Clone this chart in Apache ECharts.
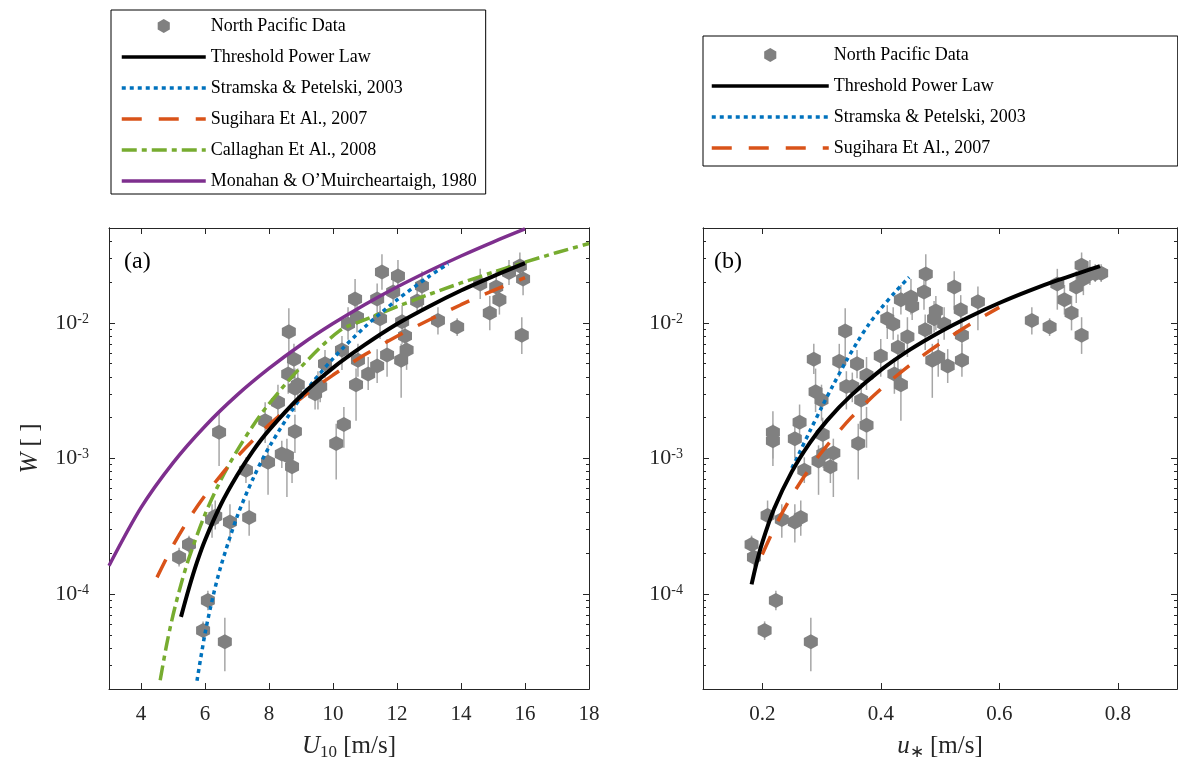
<!DOCTYPE html>
<html><head><meta charset="utf-8">
<script src="https://cdn.jsdelivr.net/npm/echarts@6/dist/echarts.min.js"></script>
<style>html,body{margin:0;padding:0;background:#fff}#c{width:1178px;height:769px}</style>
</head><body><div id="c"></div>
<script>
// ---------------- data ----------------
// Panel (a): wind speed U10 [m/s] vs whitecap coverage W
const ptsA_U = [5.19,5.5,6.22,6.32,6.78,7.38,6.09,5.94,6.62,7.28,7.97,8.4,8.56,8.72,8.62,6.44,8.78,8.6,8.81,8.28,9.53,8.81,7.88,10.34,10.1,10.47,10.28,10.69,10.75,11.53,12.03,11.38,11.47,11.88,12.16,12.25,12.3,11.69,12.13,11.38,11.1,10.72,12.78,12.63,15.84,15.94,15.1,14.6,15.2,14.9,13.28,13.88,15.9,10.78,9.75,9.44,15.5,9.6,8.9];
const ptsA_W = [1.87e-4,2.32e-4,3.55e-4,3.75e-4,3.4e-4,3.67e-4,9.0e-5,5.4e-5,4.46e-5,8.2e-4,9.4e-4,1.08e-3,1.05e-3,8.7e-4,8.6e-3,1.56e-3,5.4e-3,4.2e-3,3.3e-3,2.6e-3,3.4e-3,1.58e-3,1.9e-3,1.78e-3,1.29e-3,9.8e-3,6.3e-3,0.015,0.011,0.0237,0.0221,0.015,0.0107,0.0169,0.0102,8.0e-3,6.3e-3,5.8e-3,5.3e-3,4.8e-3,4.2e-3,3.5e-3,0.0187,0.0145,0.0262,0.021,0.0184,0.0193,0.0148,0.0118,0.0104,9.3e-3,8.1e-3,5.3e-3,5.0e-3,3.0e-3,0.0235,3.4e-3,3.5e-3];
const ptsA_lo = [1.6e-4,2.0e-4,2.6e-4,3.0e-4,2.4e-4,2.7e-4,7.6e-5,4.6e-5,2.7e-5,6.6e-4,5.4e-4,8.5e-4,5.2e-4,6.6e-4,5.2e-3,8.8e-4,4.2e-3,3.0e-3,2.2e-3,1.9e-3,2.3e-3,1.1e-3,1.3e-3,1.2e-3,7.0e-4,7.5e-3,4.5e-3,0.0115,8.5e-3,0.0175,0.0165,0.0115,7.6e-3,0.0125,7.0e-3,5.6e-3,4.5e-3,4.0e-3,2.8e-3,3.6e-3,3.2e-3,1.9e-3,0.0125,0.0115,0.021,0.016,0.014,0.015,0.0115,8.8e-3,8.2e-3,8.0e-3,5.9e-3,4.0e-3,3.9e-3,2.3e-3,0.019,2.6e-3,2.6e-3];
const ptsA_hi = [2.2e-4,2.7e-4,4.6e-4,4.9e-4,4.6e-4,4.9e-4,1.06e-4,6.3e-5,6.7e-5,1.02e-3,1.25e-3,1.35e-3,1.4e-3,1.1e-3,0.0128,2.23e-3,7.0e-3,5.5e-3,4.6e-3,3.5e-3,4.4e-3,2.1e-3,2.6e-3,2.4e-3,1.8e-3,0.013,8.0e-3,0.021,0.0145,0.032,0.029,0.0195,0.0135,0.022,0.0135,0.011,8.2e-3,7.6e-3,7.0e-3,6.4e-3,5.6e-3,4.6e-3,0.024,0.018,0.033,0.027,0.024,0.025,0.019,0.0158,0.013,0.0108,0.011,7.0e-3,6.3e-3,4.0e-3,0.029,4.3e-3,4.6e-3];

const tplA_U = [5.25,5.5,5.75,6,6.5,7,7.5,8,9,10,11,12,13,14,15,16];
const tplA_W = [6.8e-5,1.11e-4,1.72e-4,2.5e-4,4.6e-4,7.5e-4,1.14e-3,1.62e-3,2.9e-3,4.66e-3,6.9e-3,9.8e-3,1.32e-2,1.73e-2,2.2e-2,2.75e-2];
const spA_U = [5.75,6,6.25,6.5,7,7.5,8,9,10,11,12,13,13.6];
const spA_W = [2.3e-5,5.12e-5,9.6e-5,1.62e-4,3.71e-4,7.1e-4,1.21e-3,2.82e-3,5.45e-3,9.35e-3,1.477e-2,2.197e-2,2.724e-2];
const sugA_U = [4.5,5,5.5,6,6.5,7,8,9,10,11,12,13,14,15,16];
const sugA_W = [1.33e-4,2.28e-4,3.6e-4,5.33e-4,7.55e-4,1.03e-3,1.77e-3,2.78e-3,4.12e-3,5.83e-3,7.96e-3,1.05e-2,1.36e-2,1.73e-2,2.15e-2];
const calA_U = [4.6,4.8,5.0,5.25,5.5,6.0,6.5,7,7.5,8,9,10.2,11,12,13,14,15,16,17,18];
const calA_W = [2.32e-5,4.23e-5,6.99e-5,1.18e-4,1.85e-4,3.87e-4,6.98e-4,1.14e-3,1.745e-3,2.53e-3,4.73e-3,8.73e-3,1.054e-2,1.317e-2,1.62e-2,1.967e-2,2.36e-2,2.8e-2,3.3e-2,3.84e-2];
const monA_U = [3,4,5,6,7,8,9,10,11,12,13,14,15,16];
const monA_W = [1.62e-4,4.34e-4,9.29e-4,1.73e-3,2.93e-3,4.61e-3,6.9e-3,9.87e-3,1.366e-2,1.837e-2,2.41e-2,3.11e-2,3.94e-2,4.92e-2];

// Panel (b): friction velocity u* [m/s] vs W
const ptsB_u = [0.182,0.186,0.209,0.233,0.255,0.265,0.223,0.204,0.282,0.271,0.295,0.303,0.32,0.315,0.34,0.287,0.218,0.218,0.255,0.263,0.302,0.362,0.376,0.29,0.3,0.342,0.352,0.367,0.376,0.36,0.33,0.4,0.429,0.445,0.423,0.434,0.411,0.421,0.434,0.451,0.453,0.476,0.473,0.493,0.49,0.475,0.497,0.487,0.513,0.524,0.535,0.537,0.537,0.564,0.655,0.685,0.698,0.71,0.722,0.739,0.73,0.739,0.742,0.753,0.762,0.772,0.507];
const ptsB_W = [2.32e-4,1.87e-4,3.8e-4,3.55e-4,3.4e-4,3.67e-4,9.0e-5,5.4e-5,4.46e-5,8.2e-4,9.6e-4,1.08e-3,1.1e-3,8.7e-4,8.7e-3,5.4e-3,1.56e-3,1.35e-3,1.4e-3,1.85e-3,1.5e-3,1.29e-3,1.76e-3,3.1e-3,2.7e-3,3.4e-3,3.4e-3,2.7e-3,4.1e-3,5.0e-3,5.2e-3,5.7e-3,6.6e-3,7.9e-3,4.2e-3,3.5e-3,0.0107,9.8e-3,0.0148,0.0155,0.0133,0.0229,0.0169,0.0122,0.0107,8.9e-3,5.6e-3,5.3e-3,4.8e-3,0.0184,0.0125,8.1e-3,5.3e-3,0.0143,0.0104,9.3e-3,0.0193,0.0148,0.0118,8.1e-3,0.0184,0.0266,0.021,0.0229,0.023,0.0232,9.8e-3];
const ptsB_lo = [2.0e-4,1.6e-4,3.0e-4,2.6e-4,2.4e-4,2.7e-4,7.6e-5,4.6e-5,2.7e-5,6.6e-4,5.4e-4,8.5e-4,5.2e-4,6.6e-4,5.2e-3,4.2e-3,8.8e-4,1.0e-3,1.0e-3,1.3e-3,1.1e-3,7.0e-4,1.2e-3,2.2e-3,1.9e-3,2.3e-3,2.6e-3,1.9e-3,3.2e-3,3.9e-3,4.0e-3,4.0e-3,4.5e-3,5.6e-3,3.0e-3,1.9e-3,7.6e-3,7.5e-3,0.0115,0.0115,0.0105,0.0175,0.0125,8.8e-3,8.5e-3,6.3e-3,4.0e-3,2.8e-3,3.6e-3,0.0125,9.0e-3,5.6e-3,4.0e-3,8.8e-3,8.2e-3,8.0e-3,0.0125,0.0115,8.8e-3,5.9e-3,0.014,0.021,0.016,0.019,0.02,0.02,7.5e-3];
const ptsB_hi = [2.7e-4,2.2e-4,4.9e-4,4.6e-4,4.6e-4,4.9e-4,1.06e-4,6.3e-5,6.7e-5,1.02e-3,1.25e-3,1.35e-3,1.4e-3,1.1e-3,0.0128,7.0e-3,2.23e-3,1.8e-3,1.9e-3,2.5e-3,2.0e-3,1.8e-3,2.4e-3,4.6e-3,3.5e-3,4.4e-3,4.3e-3,3.6e-3,5.6e-3,6.3e-3,7.0e-3,7.6e-3,8.2e-3,0.011,5.5e-3,4.6e-3,0.0135,0.013,0.019,0.021,0.0165,0.032,0.022,0.0158,0.0145,0.0115,7.6e-3,7.0e-3,6.4e-3,0.024,0.016,0.011,7.0e-3,0.0185,0.013,0.0108,0.025,0.019,0.0158,0.011,0.024,0.033,0.027,0.029,0.027,0.027,0.013];

const tplB_u = [0.182,0.19,0.2,0.22,0.25,0.28,0.31,0.35,0.4,0.45,0.5,0.55,0.6,0.65,0.7,0.77];
const tplB_W = [1.18e-4,1.67e-4,2.4e-4,4.26e-4,8.0e-4,1.3e-3,1.92e-3,2.92e-3,4.48e-3,6.37e-3,8.57e-3,1.11e-2,1.4e-2,1.72e-2,2.07e-2,2.62e-2];
const spB_u = [0.25,0.26,0.28,0.3,0.32,0.34,0.36,0.38,0.4,0.425,0.448];
const spB_W = [8.5e-4,1.04e-3,1.58e-3,2.37e-3,3.5e-3,5.07e-3,7.16e-3,9.77e-3,1.27e-2,1.7e-2,2.17e-2];
const sugB_u = [0.2,0.225,0.25,0.275,0.3,0.35,0.4,0.45,0.5,0.55,0.6];
const sugB_W = [1.96e-4,3.37e-4,5.31e-4,7.85e-4,1.11e-3,2.0e-3,3.24e-3,4.91e-3,7.05e-3,9.73e-3,1.3e-2];

// axis ticks
const xTicksA = [4,6,8,10,12,14,16,18];
const xTicksB = [0.2,0.4,0.6,0.8];
const yMajor = [1e-4,1e-3,1e-2];
const yMinor = [2e-5,3e-5,4e-5,5e-5,6e-5,7e-5,8e-5,9e-5,2e-4,3e-4,4e-4,5e-4,6e-4,7e-4,8e-4,9e-4,2e-3,3e-3,4e-3,5e-3,6e-3,7e-3,8e-3,9e-3,2e-2,3e-2,4e-2,5e-2];

const names = ['North Pacific Data','Threshold Power Law','Stramska & Petelski, 2003','Sugihara Et Al., 2007','Callaghan Et Al., 2008','Monahan & O\u2019Muircheartaigh, 1980'];

// ---------------- chart ----------------
const FONT = 'Liberation Serif';
const AX = '#262626';
const C = {black:'#000000', blue:'#0072BD', orange:'#D95319', green:'#77AC30', purple:'#7E2F8E', gray:'#808080', err:'#a6a6a6'};
const HEX = 'path://M0,-10L8.66,-5L8.66,5L0,10L-8.66,5L-8.66,-5Z';

const zip = (a, b) => a.map((v, i) => [v, b[i]]);

const grids = [
  {left:109, top:228, width:480, height:461, outerBoundsMode:'none'},
  {left:703, top:228, width:474, height:461, outerBoundsMode:'none'}
];

function xAx(grid, min, max, ticks, pos, showLabel, name, fmt) {
  return {
    type:'value', gridIndex:grid, min:min, max:max, position:pos,
    axisLine:{show:true, onZero:false, lineStyle:{color:AX, width:1}},
    axisTick:{show:true, inside:true, length:6, customValues:ticks, lineStyle:{color:AX, width:1}},
    axisLabel:{show:showLabel, customValues:ticks, color:AX, fontFamily:FONT, fontSize:21, margin:15, formatter:fmt},
    splitLine:{show:false},
    name: name || '', nameLocation:'middle', nameGap:42,
    nameTextStyle:{color:AX, fontFamily:FONT, fontSize:25, lineHeight:30,
      rich:{i:{fontFamily:FONT, fontSize:25, fontStyle:'italic', lineHeight:30, color:AX},
            sub:{fontFamily:FONT, fontSize:17, lineHeight:18, verticalAlign:'bottom', color:AX},
            t:{fontFamily:FONT, fontSize:25, lineHeight:30, color:AX}}}
  };
}
function yAx(grid, pos, ticks, len, showLabel, name) {
  return {
    type:'log', logBase:10, gridIndex:grid, min:2e-5, max:0.05, position:pos,
    axisLine:{show:true, onZero:false, lineStyle:{color:AX, width:1}},
    axisTick:{show:true, inside:true, length:len, customValues:ticks, lineStyle:{color:AX, width:1}},
    axisLabel:{show:showLabel, customValues:ticks, margin:20,
      formatter: v => '{b|10}{s|' + Math.round(Math.log10(v)) + '}',
      rich:{b:{fontFamily:FONT, fontSize:22, color:AX, lineHeight:22, padding:[8,0,0,0], verticalAlign:'bottom'},
            s:{fontFamily:FONT, fontSize:14, color:AX, lineHeight:15, verticalAlign:'top'}}},
    splitLine:{show:false}, minorTick:{show:false},
    name: name || '', nameLocation:'middle', nameGap:66,
    nameTextStyle:{color:AX, fontFamily:FONT, fontSize:25, padding:[0,0,0,20],
      rich:{i:{fontFamily:FONT, fontSize:25, fontStyle:'italic', color:AX}, t:{fontFamily:FONT, fontSize:25, color:AX}}}
  };
}

const xAxis = [
  xAx(0, 3, 18, xTicksA, 'bottom', true, '{i|U}{sub|10}{t| [m/s]}', v => String(v)),
  xAx(0, 3, 18, xTicksA, 'top', false),
  xAx(1, 0.1, 0.9, xTicksB, 'bottom', true, '{i|u}{sub|\u2217}{t| [m/s]}', v => String(v)),
  xAx(1, 0.1, 0.9, xTicksB, 'top', false)
];
const yAxis = [
  yAx(0, 'left', yMajor, 6, true, '{i|W}{t| [ ]}'),
  yAx(0, 'left', yMinor, 3, false),
  yAx(0, 'right', yMajor, 6, false),
  yAx(0, 'right', yMinor, 3, false),
  yAx(1, 'left', yMajor, 6, true),
  yAx(1, 'left', yMinor, 3, false),
  yAx(1, 'right', yMajor, 6, false),
  yAx(1, 'right', yMinor, 3, false)
];

function errSeries(xi, yi, data) {
  return {
    type:'custom', xAxisIndex:xi, yAxisIndex:yi, data:data, silent:true, z:2, clip:true,
    renderItem: (params, api) => {
      const p1 = api.coord([api.value(0), api.value(1)]);
      const p2 = api.coord([api.value(0), api.value(2)]);
      return {type:'line', shape:{x1:p1[0], y1:p1[1], x2:p2[0], y2:p2[1]},
              style:{stroke:C.err, lineWidth:1.5}};
    }
  };
}
function scat(xi, yi, data) {
  return {name:names[0], type:'scatter', xAxisIndex:xi, yAxisIndex:yi, data:data, symbol:HEX,
    symbolSize:[14,15], itemStyle:{color:C.gray, opacity:1}, z:3, silent:true};
}
function line(name, xi, yi, data, color, type, width) {
  return {name:name, type:'line', xAxisIndex:xi, yAxisIndex:yi, data:data, smooth:0.3,
    symbol:'none', showSymbol:false, clip:true, z:4, silent:true,
    lineStyle:{color:color, width:width, type:type, cap:'butt'}, itemStyle:{color:color}};
}

const DASH = [20, 17];
const DOT = [4, 4];
const DASHDOT = [15, 5, 5, 5];

const series = [
  errSeries(0, 0, ptsA_W.map((w, i) => [ptsA_U[i], ptsA_lo[i], ptsA_hi[i]])),
  scat(0, 0, zip(ptsA_U, ptsA_W)),
  line(names[5], 0, 0, zip(monA_U, monA_W), C.purple, 'solid', 3.5),
  line(names[4], 0, 0, zip(calA_U, calA_W), C.green, DASHDOT, 3.5),
  line(names[3], 0, 0, zip(sugA_U, sugA_W), C.orange, DASH, 3.5),
  line(names[2], 0, 0, zip(spA_U, spA_W), C.blue, DOT, 3.5),
  line(names[1], 0, 0, zip(tplA_U, tplA_W), C.black, 'solid', 4),
  errSeries(2, 4, ptsB_W.map((w, i) => [ptsB_u[i], ptsB_lo[i], ptsB_hi[i]])),
  scat(2, 4, zip(ptsB_u, ptsB_W)),
  line(names[3], 2, 4, zip(sugB_u, sugB_W), C.orange, DASH, 3.5),
  line(names[2], 2, 4, zip(spB_u, spB_W), C.blue, DOT, 3.5),
  line(names[1], 2, 4, zip(tplB_u, tplB_W), C.black, 'solid', 4)
];

const hideSym = {opacity:0, color:'rgba(0,0,0,0)', borderWidth:0};
const legendText = {fontFamily:FONT, fontSize:18, color:'#000'};
const lineItem = n => ({name:n, itemStyle:hideSym});
const legends = [
  {orient:'vertical', left:111, top:10, padding:[7,9,4,9], itemWidth:84, itemHeight:14, itemGap:13,
   borderColor:'#000', borderWidth:1, backgroundColor:'#fff', selectedMode:false, textStyle:legendText,
   lineStyle:{width:3.5},
   data:[{name:names[0], icon:HEX}, lineItem(names[1]), lineItem(names[2]), lineItem(names[3]), lineItem(names[4]), lineItem(names[5])]},
  {orient:'vertical', left:703, top:36, padding:[10,152,9,7], itemWidth:117, itemHeight:14, itemGap:13,
   borderColor:'#000', borderWidth:1, backgroundColor:'#fff', selectedMode:false, textStyle:legendText,
   lineStyle:{width:3.5},
   data:[{name:names[0], icon:HEX}, lineItem(names[1]), lineItem(names[2]), lineItem(names[3])]}
];

const chart = echarts.init(document.getElementById('c'), null, {renderer:'canvas'});
chart.setOption({
  animation:false,
  backgroundColor:'#fff',
  grid:grids, xAxis:xAxis, yAxis:yAxis, series:series, legend:legends,
  graphic:[
    {type:'text', left:124, top:250, style:{text:'(a)', fontFamily:FONT, fontSize:24, fill:'#000'}},
    {type:'text', left:714, top:250, style:{text:'(b)', fontFamily:FONT, fontSize:24, fill:'#000'}}
  ]
});
</script></body></html>
